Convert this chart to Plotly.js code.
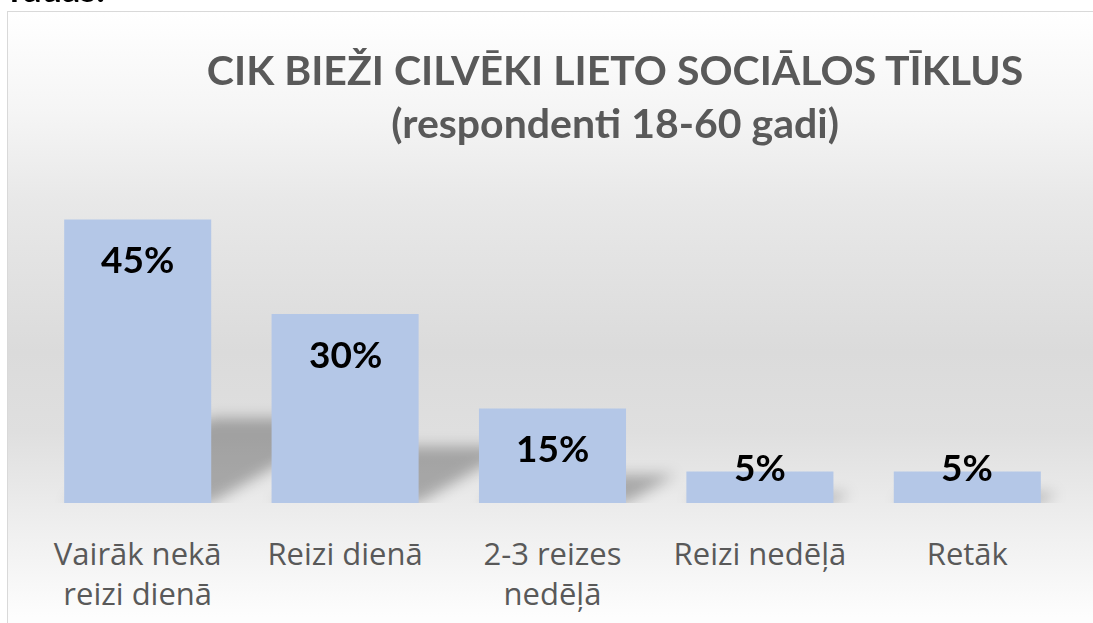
<!DOCTYPE html>
<html>
<head>
<meta charset="utf-8">
<script src="https://cdn.plot.ly/plotly-3.0.1.min.js"></script>
<style>
html,body{margin:0;padding:0;background:#ffffff;overflow:hidden;width:1093px;height:623px;}
#frame{position:absolute;left:7px;top:11px;width:1200px;height:800px;border:1.5px solid #D9D9D9;
background:linear-gradient(to bottom,#FFFFFF 0px,#F5F5F5 100px,#E8E8E8 190px,#DBDBDB 340px,#DFDFDF 420px,#EEEEEE 510px,#FDFDFD 605px);}
#chart{position:absolute;left:0;top:0;width:1093px;height:623px;}
#chart .barlayer .trace:first-child path{transform-box:fill-box;transform-origin:0 100%;transform:skewX(-60deg) scaleY(0.3);}
#chart .barlayer .trace:first-child .points{filter:url(#shblur);}
</style>
</head>
<body>
<svg width="0" height="0" style="position:absolute">
  <defs>
    <filter id="shblur" x="-50%" y="-50%" width="200%" height="200%">
      <feGaussianBlur stdDeviation="7"/>
    </filter>
  </defs>
</svg>
<div id="frame"></div>
<div id="chart"></div>
<script>
const categories = ['Vairāk nekā<br>reizi dienā', 'Reizi dienā', '2-3 reizes<br>nedēļā', 'Reizi nedēļā', 'Retāk'];
const values = [45, 30, 15, 5, 5];
const valueLabels = ['45%', '30%', '15%', '5%', '5%'];
const titleText = 'CIK BIEŽI CILVĒKI LIETO SOCIĀLOS TĪKLUS<br>(respondenti 18-60 gadi)';
const cutText = 'rādās:';

const shadow = {
  type: 'bar', x: categories, y: values,
  marker: {color: 'rgba(0,0,0,0.28)'},
  hoverinfo: 'skip', showlegend: false
};
const bars = {
  type: 'bar', x: categories, y: values,
  marker: {color: '#B4C7E7'},
  hoverinfo: 'x+y', showlegend: false
};

const annotations = values.map((v, i) => ({
  x: categories[i], y: v, xref: 'x', yref: 'y',
  text: valueLabels[i], showarrow: false,
  yanchor: 'middle', yshift: v >= 10 ? -39 : 5,
  font: {family: 'Lato', size: 37, color: '#000000', weight: 700}
}));
annotations.push({
  xref: 'paper', yref: 'paper', x: -0.025, y: 1.56, xanchor: 'left', yanchor: 'bottom',
  text: cutText, showarrow: false,
  font: {family: 'Lato', size: 36, color: '#000000', weight: 700}
});

const layout = {
  width: 1093, height: 623,
  paper_bgcolor: 'rgba(0,0,0,0)', plot_bgcolor: 'rgba(0,0,0,0)',
  margin: {l: 34, r: 22, t: 188, b: 120, pad: 0},
  barmode: 'overlay', bargap: 0.291,
  title: {
    text: titleText, xref: 'container', yref: 'container',
    x: 0.5627, xanchor: 'center', y: 1 - 85 / 623, yanchor: 'top',
    font: {family: 'Lato', size: 41, color: '#595959', weight: 700},
    pad: {t: 0, b: 0}
  },
  xaxis: {
    type: 'category', showgrid: false, zeroline: false, showline: false, ticks: '',
    tickfont: {family: 'Open Sans', size: 31, color: '#595959'},
    ticklabelstandoff: 30, automargin: false, fixedrange: true
  },
  yaxis: {range: [0, 50], visible: false, showgrid: false, zeroline: false, fixedrange: true},
  annotations: annotations,
  showlegend: false
};

Plotly.newPlot('chart', [shadow, bars], layout, {displayModeBar: false, staticPlot: true});
</script>
</body>
</html>
